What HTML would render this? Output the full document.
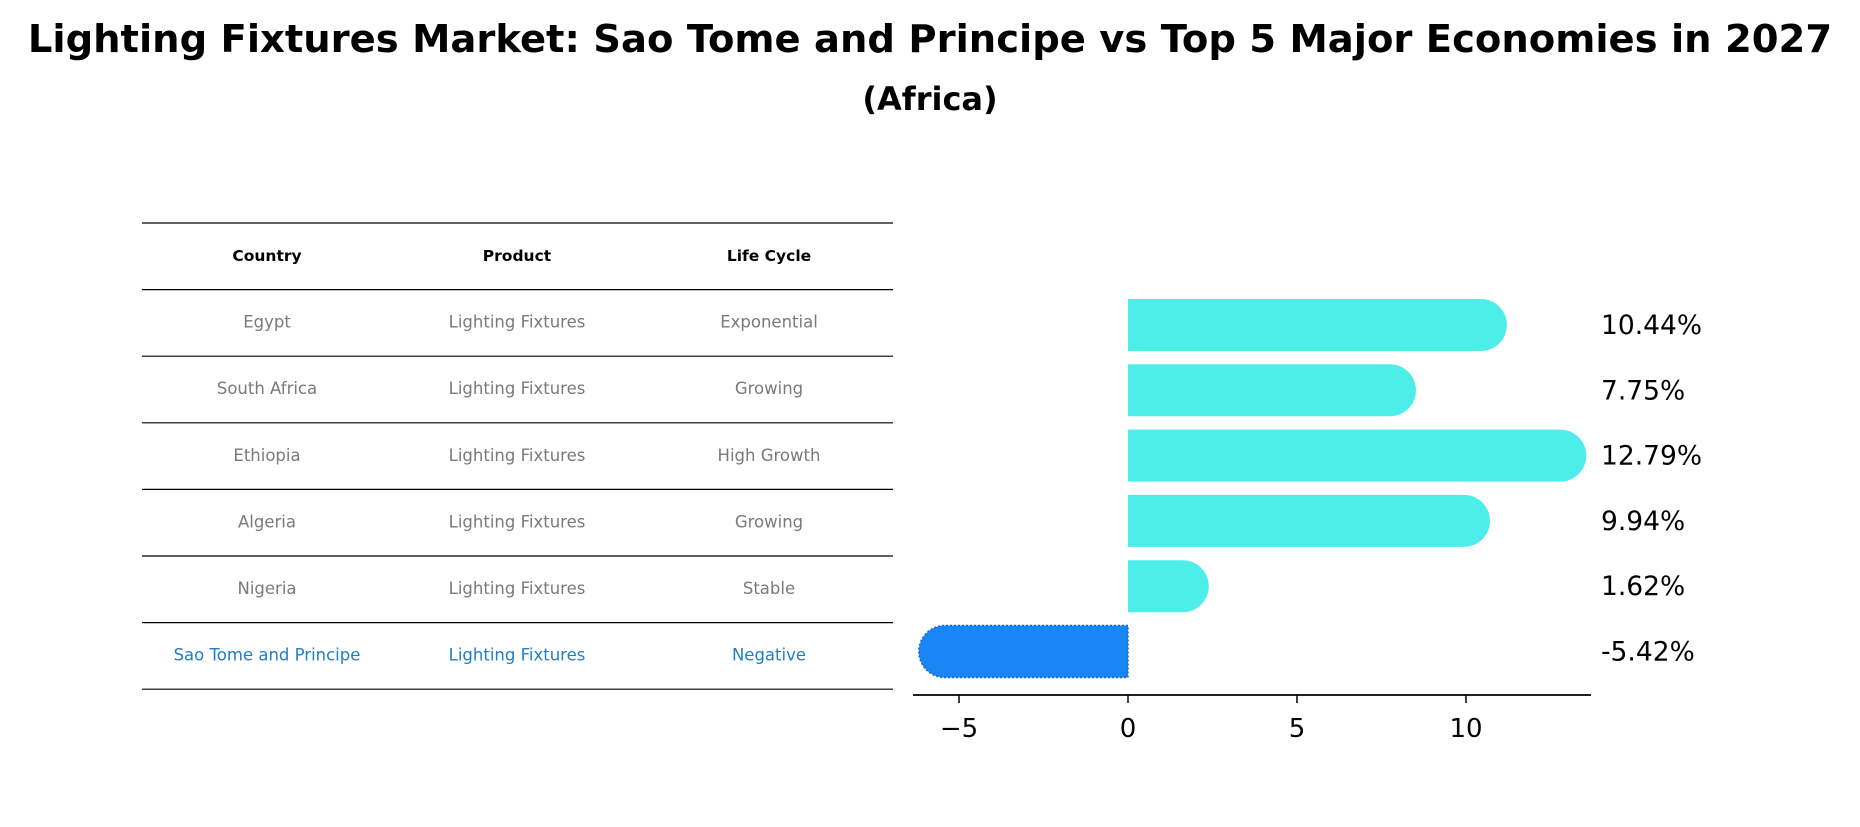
<!DOCTYPE html>
<html><head><meta charset="utf-8"><style>
body{margin:0;background:#fff;width:1860px;height:823px;overflow:hidden;font-family:"DejaVu Sans","Liberation Sans",sans-serif}
</style></head><body>
<svg width="1860" height="823" xmlns="http://www.w3.org/2000/svg">
<text x="930" y="52" text-anchor="middle" font-size="38.5" font-weight="bold">Lighting Fixtures Market: Sao Tome and Principe vs Top 5 Major Economies in 2027</text>
<text x="930" y="110" text-anchor="middle" font-size="32" font-weight="bold">(Africa)</text>
<g id="table"></g>
<g id="bars"></g>
</svg>
<script>
const countries=["Egypt","South Africa","Ethiopia","Algeria","Nigeria","Sao Tome and Principe"];
const products=["Lighting Fixtures","Lighting Fixtures","Lighting Fixtures","Lighting Fixtures","Lighting Fixtures","Lighting Fixtures"];
const lifecycles=["Exponential","Growing","High Growth","Growing","Stable","Negative"];
const values=[10.44,7.75,12.79,9.94,1.62,-5.42];
const tickValues=[-5,0,5,10];
const NS="http://www.w3.org/2000/svg";
function mk(t,a,p){const e=document.createElementNS(NS,t);for(const k in a)e.setAttribute(k,a[k]);p.appendChild(e);return e;}
const tb=document.getElementById('table');
const rowY=i=>223+66.6*i;
for(let i=0;i<=7;i++){const l=mk('line',{x1:142,x2:893,y1:rowY(i),y2:rowY(i),stroke:'#000','stroke-width':1.2},tb);

}
const cx=[267,517,769];
["Country","Product","Life Cycle"].forEach((h,j)=>{const t=mk('text',{x:cx[j],y:rowY(0)+38,'text-anchor':'middle','font-size':15.5,'font-weight':'bold'},tb);t.textContent=h;

});
countries.forEach((c,i)=>{const col=i===countries.length-1?'#1f7fc9':'#7a7a7a';
[c,products[i],lifecycles[i]].forEach((s,j)=>{const t=mk('text',{x:cx[j],y:rowY(i+1)+38,'text-anchor':'middle','font-size':16.5,fill:col},tb);t.textContent=s;

});});
const bg=document.getElementById('bars');
const xs=v=>1128+v*33.8;
const yc=i=>325+65.3*i;
const h=52,r=26;
values.forEach((v,i)=>{const x0=xs(0),x1=xs(v),y=yc(i);const neg=v<0;const col=neg?'#1a86f5':'#4dedea';
let d;
if(!neg)d=`M${x0},${y-h/2}L${x1},${y-h/2}A${r},${r} 0 0 1 ${x1},${y+h/2}L${x0},${y+h/2}Z`;
else d=`M${x0},${y-h/2}L${x1},${y-h/2}A${r},${r} 0 0 0 ${x1},${y+h/2}L${x0},${y+h/2}Z`;
const p=mk('path',{d:d,fill:col},bg);


if(neg){mk('path',{d:d,fill:'none',stroke:'#1668c8','stroke-width':1.5,'stroke-dasharray':'2,2'},bg);}
const t=mk('text',{x:1601,y:y+9,'font-size':26.5},bg);t.textContent=v.toFixed(2)+'%';

});
const ax=mk('line',{x1:913,x2:1591,y1:695,y2:695,stroke:'#000','stroke-width':1.8},bg);


tickValues.forEach(v=>{mk('line',{x1:xs(v),x2:xs(v),y1:695,y2:703,stroke:'#000','stroke-width':1.5},bg);
const t=mk('text',{x:xs(v),y:737,'text-anchor':'middle','font-size':26},bg);t.textContent=v<0?'\u2212'+Math.abs(v):String(v);

});
</script>
</body></html>
